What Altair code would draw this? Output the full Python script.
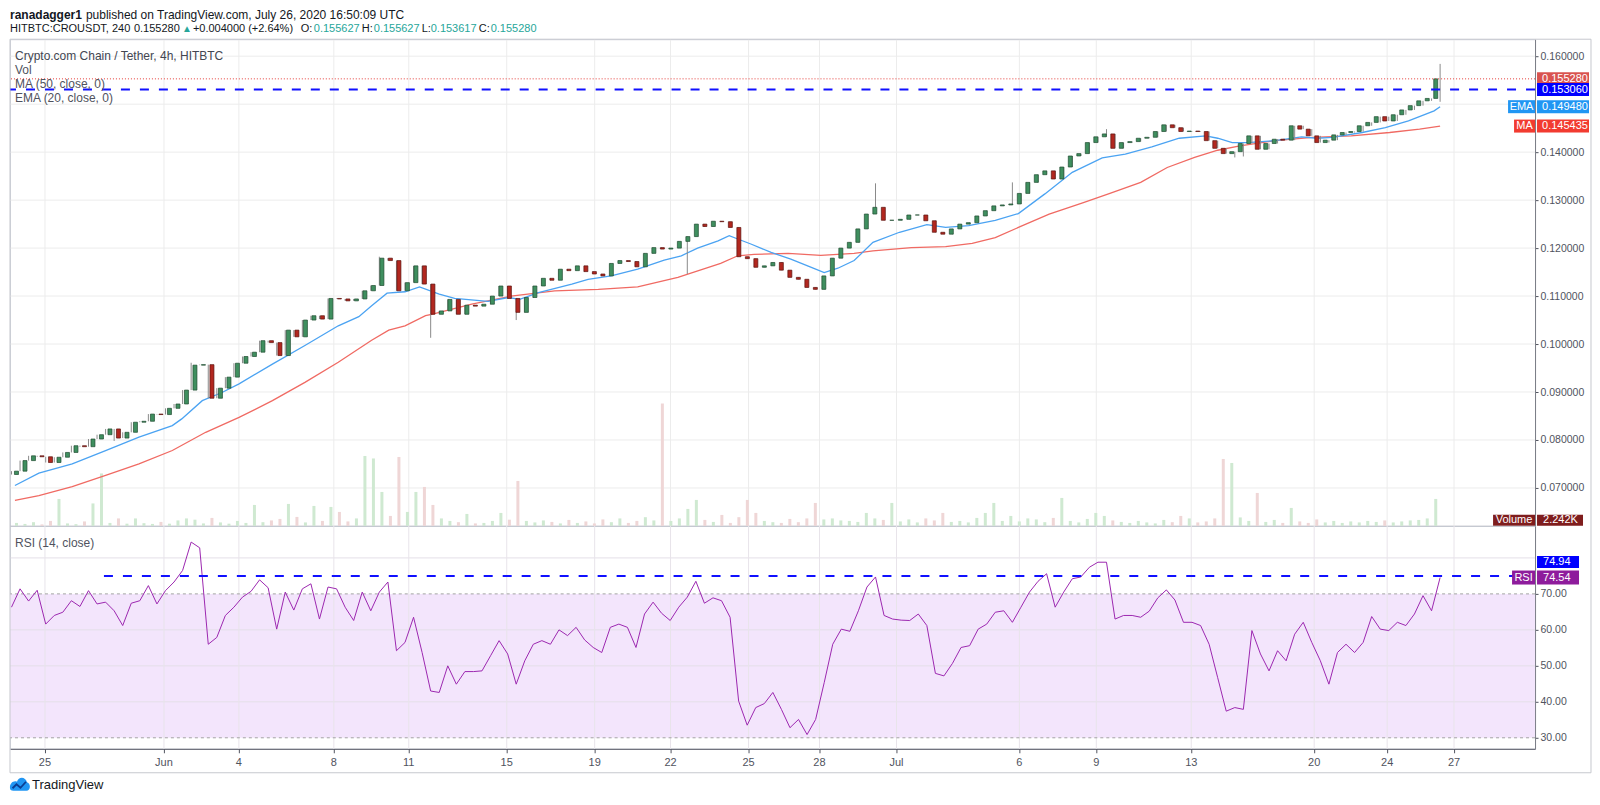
import altair as alt
import pandas as pd

# ---------------- data ----------------
close = [0.0735, 0.0757, 0.0767, 0.0765, 0.0753, 0.0764, 0.0774, 0.0788, 0.0786, 0.0802,
         0.0811, 0.0823, 0.0804, 0.0816, 0.0837, 0.0839, 0.0854, 0.0853, 0.0866, 0.0875,
         0.0904, 0.0956, 0.0957, 0.0887, 0.0908, 0.0931, 0.0960, 0.0974, 0.0983, 0.1007,
         0.1003, 0.0976, 0.1029, 0.1015, 0.1050, 0.1059, 0.1052, 0.1095, 0.1094, 0.1090,
         0.1094, 0.1111, 0.1122, 0.1179, 0.1174, 0.1111, 0.1128, 0.1163, 0.1125, 0.1062,
         0.1069, 0.1093, 0.1062, 0.1081, 0.1079, 0.1083, 0.1100, 0.1121, 0.1095, 0.1066,
         0.1097, 0.1121, 0.1137, 0.1133, 0.1156, 0.1153, 0.1163, 0.1151, 0.1146, 0.1142,
         0.1168, 0.1174, 0.1172, 0.1161, 0.1189, 0.1201, 0.1198, 0.1200, 0.1214, 0.1224,
         0.1250, 0.1245, 0.1256, 0.1255, 0.1243, 0.1182, 0.1178, 0.1160, 0.1163, 0.1170,
         0.1154, 0.1139, 0.1135, 0.1118, 0.1114, 0.1142, 0.1179, 0.1200, 0.1212, 0.1240,
         0.1271, 0.1285, 0.1258, 0.1258, 0.1260, 0.1269, 0.1269, 0.1257, 0.1233, 0.1229,
         0.1240, 0.1250, 0.1253, 0.1267, 0.1278, 0.1288, 0.1290, 0.1292, 0.1314, 0.1337,
         0.1353, 0.1361, 0.1344, 0.1369, 0.1392, 0.1397, 0.1420, 0.1432, 0.1438, 0.1408,
         0.1420, 0.1422, 0.1429, 0.1431, 0.1443, 0.1457, 0.1451, 0.1443, 0.1444, 0.1443,
         0.1424, 0.1408, 0.1397, 0.1401, 0.1418, 0.1434, 0.1406, 0.1418, 0.1427, 0.1425,
         0.1455, 0.1448, 0.1434, 0.1420, 0.1425, 0.1436, 0.1441, 0.1443, 0.1455, 0.1462,
         0.1474, 0.1465, 0.1478, 0.1488, 0.1497, 0.1507, 0.1512, 0.15528]
first_open = 0.0728
wick_high = {21: 0.0961, 43: 0.1182, 101: 0.1335, 117: 0.1337, 128: 0.1448, 167: 0.1584}
wick_low = {12: 0.0798, 49: 0.1013, 59: 0.1050, 79: 0.1146, 143: 0.1389, 144: 0.1391, 167: 0.1505}

rsi = [66.3, 71.4, 68.0, 71.0, 61.6, 64.0, 64.9, 68.1, 66.5, 70.9,
       67.2, 67.7, 65.3, 61.2, 67.4, 68.1, 72.3, 67.2, 70.9, 73.3,
       76.5, 84.4, 82.8, 56.0, 57.9, 64.0, 66.3, 69.1, 70.7, 73.9,
       71.7, 60.2, 70.5, 65.5, 71.4, 72.8, 63.0, 71.9, 71.4, 66.3,
       62.6, 70.5, 65.3, 70.5, 73.3, 54.2, 56.5, 63.5, 53.7, 43.0,
       42.6, 50.0, 44.9, 48.4, 48.4, 48.6, 52.8, 57.0, 53.3, 44.9,
       51.4, 56.0, 57.0, 56.0, 60.0, 58.4, 60.7, 57.2, 55.1, 53.7,
       60.7, 61.6, 60.7, 55.1, 64.4, 67.7, 64.6, 62.6, 66.3, 69.1,
       73.5, 67.4, 68.9, 68.1, 63.5, 40.2, 33.5, 38.4, 39.5, 42.6,
       37.9, 32.8, 35.1, 30.9, 35.1, 45.3, 56.0, 60.2, 59.6, 65.3,
       71.9, 74.7, 64.0, 63.0, 62.7, 62.6, 64.4, 61.2, 47.9, 47.2,
       50.7, 55.1, 55.6, 60.2, 61.6, 64.9, 65.3, 62.1, 66.3, 70.5,
       73.5, 75.6, 66.3, 70.5, 74.2, 74.7, 77.4, 78.8, 78.8, 63.0,
       64.0, 64.0, 63.5, 65.2, 68.9, 71.1, 68.3, 62.1, 62.1, 61.2,
       56.0, 46.7, 37.4, 38.4, 37.9, 59.8, 53.3, 48.6, 54.2, 51.4,
       58.8, 62.1, 56.5, 51.4, 44.9, 53.7, 56.0, 53.7, 56.5, 63.7,
       60.2, 59.8, 62.1, 61.2, 64.4, 69.5, 65.3, 74.54]

volume_k = [1.2, 0.8, 1.5, 0.6, 2.0, 10.8, 1.0, 0.7, 1.8, 9.0,
            21.0, 1.2, 3.0, 0.9, 3.0, 1.1, 0.8, 1.6, 0.9, 2.2,
            3.0, 2.5, 1.0, 3.2, 1.4, 0.9, 2.0, 1.2, 8.4, 1.5,
            2.2, 2.8, 8.8, 3.6, 1.4, 8.0, 2.0, 7.6, 5.6, 1.8,
            3.0, 28.0, 27.0, 13.6, 4.0, 27.6, 5.6, 13.6, 15.6, 8.4,
            3.0, 2.0, 1.5, 4.8, 1.0, 1.2, 2.0, 5.2, 2.5, 18.0,
            2.0, 1.4, 2.2, 1.6, 1.0, 2.4, 1.2, 1.8, 1.0, 2.6,
            1.5, 3.0, 1.2, 2.0, 3.5, 2.2, 49.0, 2.0, 3.0, 6.8,
            10.4, 2.4, 1.6, 4.4, 1.2, 3.5, 10.4, 5.2, 2.0, 1.5,
            1.2, 2.8, 1.5, 3.0, 9.2, 2.6, 3.0, 2.2, 2.0, 1.6,
            5.2, 3.0, 2.4, 9.2, 1.8, 2.6, 1.4, 3.0, 2.2, 5.2,
            1.6, 2.0, 1.4, 3.2, 5.2, 9.2, 2.0, 4.0, 1.8, 3.0,
            2.6, 1.5, 3.2, 11.2, 2.0, 1.4, 2.8, 5.2, 4.0, 2.2,
            1.6, 1.2, 2.0, 1.4, 1.0, 2.4, 1.5, 4.0, 3.0, 1.4,
            1.8, 3.0, 26.8, 25.2, 3.4, 2.0, 13.2, 1.6, 2.4, 1.2,
            7.2, 1.8, 1.2, 2.6, 1.4, 2.0, 1.2, 1.8, 1.4, 2.0,
            1.6, 2.2, 1.4, 1.8, 2.2, 2.4, 3.0, 10.8]

ema_idx = [0.4, 3.2, 7.1, 11.0, 14.9, 18.8, 19.9, 22.3, 24.6, 26.6, 30.5, 34.3, 38.2, 40.6, 42.1,
           43.9, 46.0, 47.7, 50.0, 51.8, 55.7, 58.1, 59.4, 61.6, 65.5, 67.4, 70.1, 73.2, 76.3, 78.3,
           80.2, 82.6, 83.9, 84.9, 86.5, 88.8, 91.1, 93.5, 95.0, 96.6, 98.5, 100.7, 103.8, 107.0, 109.2,
           111.9, 115.0, 117.7, 120.8, 124.0, 127.5, 130.2, 133.3, 136.5, 139.6, 141.0, 142.7, 144.5,
           147.7, 150.8, 152.6, 154.4, 157.9, 160.6, 163.3, 166.3, 167.0]
ema_val = [0.0705, 0.0731, 0.0750, 0.0778, 0.0806, 0.0830, 0.0844, 0.0882, 0.0899, 0.0917, 0.0958, 0.0997,
           0.1038, 0.1057, 0.1080, 0.1106, 0.1109, 0.1119, 0.1104, 0.1095, 0.1089, 0.1097, 0.1093, 0.1107,
           0.1125, 0.1135, 0.1142, 0.1156, 0.1175, 0.1184, 0.1200, 0.1215, 0.1226, 0.1219, 0.1208, 0.1191,
           0.1177, 0.1160, 0.1149, 0.1158, 0.1174, 0.1212, 0.1233, 0.1249, 0.1243, 0.1247, 0.1258, 0.1272,
           0.1313, 0.1358, 0.1388, 0.1396, 0.1411, 0.1429, 0.1434, 0.1429, 0.1420, 0.1420, 0.1424, 0.1432,
           0.1429, 0.1431, 0.1441, 0.1451, 0.1465, 0.1486, 0.14948]

ma_idx = [0.4, 3.2, 7.1, 11.0, 14.9, 18.8, 22.7, 26.6, 30.5, 34.3, 38.2, 42.1, 44.1, 46.0, 48.4, 49.1,
          53.8, 58.4, 63.5, 68.6, 73.2, 77.9, 82.9, 84.9, 86.8, 90.8, 94.6, 98.5, 100.7, 105.2, 109.2,
          112.3, 115.0, 117.7, 121.3, 125.3, 128.4, 132.0, 135.1, 138.3, 141.0, 143.6, 147.7, 152.1,
          156.6, 161.1, 164.6, 167.0]
ma_val = [0.0674, 0.0684, 0.0703, 0.0726, 0.0750, 0.0778, 0.0816, 0.0847, 0.0882, 0.0920, 0.0962, 0.1008,
          0.1029, 0.1038, 0.1059, 0.1062, 0.1083, 0.1100, 0.1111, 0.1114, 0.1119, 0.1139, 0.1168, 0.1184,
          0.1187, 0.1189, 0.1185, 0.1189, 0.1194, 0.1201, 0.1203, 0.1210, 0.1222, 0.1243, 0.1271, 0.1295,
          0.1314, 0.1337, 0.1368, 0.1389, 0.1404, 0.1413, 0.1424, 0.1431, 0.1434, 0.1441, 0.1448, 0.145435]

date_idx = [3.91, 17.82, 26.58, 37.68, 46.44, 57.89, 68.17, 77.04, 86.16, 94.45, 103.45,
            117.82, 126.81, 137.91, 152.28, 160.81, 168.63]
date_lab = ['25', 'Jun', '4', '8', '11', '15', '19', '22', '25', '28', 'Jul',
            '6', '9', '13', '20', '24', '27']

price_grid = [0.07, 0.08, 0.09, 0.10, 0.11, 0.12, 0.13, 0.14, 0.15, 0.16]
price_labels = [0.07, 0.08, 0.09, 0.10, 0.11, 0.12, 0.13, 0.14, 0.16]
rsi_labels = [30, 40, 50, 60, 70]
rsi_grid = [40, 50, 60, 80]

last_price = 0.15528
level_price = 0.15306
ema_last = 0.14948
ma_last = 0.145435
vol_last = 2.242
rsi_last = 74.54
rsi_level = 74.94

# ---------------- layout constants ----------------
FONT = "Liberation Sans"
W, H_MAIN, H_RSI = 1526, 487, 223
BAR_PX = 8.56
X0 = -0.175
X1 = X0 + W / BAR_PX
P_PX = 4800.0
P_TOP = 0.16 + 17 / P_PX
P_BOT = P_TOP - H_MAIN / P_PX
V_PX = 2.5
R_PX = 3.6
R_TOP = 70 + 68 / R_PX
R_BOT = R_TOP - H_RSI / R_PX

XS = alt.Scale(domain=[X0, X1], nice=False, zero=False)
PS = alt.Scale(domain=[P_BOT, P_TOP], nice=False, zero=False)
VS = alt.Scale(domain=[0, H_MAIN / V_PX], nice=False, zero=False)
RS = alt.Scale(domain=[R_BOT, R_TOP], nice=False, zero=False)

# ---------------- tables ----------------
opens = [first_open] + close[:-1]
rows = []
for i, c in enumerate(close):
    o = opens[i]
    rows.append(dict(i=i, o=o, c=c,
                     hi=max(o, c, wick_high.get(i, 0.0)),
                     lo=min(o, c, wick_low.get(i, 1.0)),
                     vol=volume_k[i], up=bool(c >= o), rsi=rsi[i]))
df = pd.DataFrame(rows)
date_df = pd.DataFrame({'t': date_idx, 'lab': date_lab})


def label(x, y, text, color='#50535e', size=12, weight='normal', align='left'):
    return alt.Chart(pd.DataFrame({'t': [text]})).mark_text(
        align=align, baseline='middle', font=FONT, fontSize=size, fontWeight=weight, color=color
    ).encode(x=alt.value(x), y=alt.value(y), text='t:N')


def box(scale, val, half, x1, x2, fill, text, tx, align='left', shift=0.0):
    d = pd.DataFrame({'lo': [val + shift - half], 'hi': [val + shift + half],
                      'm': [val + shift], 't': [text]})
    r = alt.Chart(d).mark_rect(color=fill).encode(
        x=alt.value(x1), x2=alt.value(x2),
        y=alt.Y('lo:Q', scale=scale, axis=None), y2='hi:Q')
    t = alt.Chart(d).mark_text(align=align, baseline='middle', font=FONT, fontSize=11,
                               color='white').encode(
        x=alt.value(tx), y=alt.Y('m:Q', scale=scale, axis=None), text='t:N')
    return [r, t]


def axis_carrier(yscale, yval, xaxis, yaxis):
    d = pd.DataFrame({'t': [date_idx[0]], 'v': [yval]})
    return alt.Chart(d).mark_point(opacity=0).encode(
        x=alt.X('t:Q', scale=XS, axis=xaxis),
        y=alt.Y('v:Q', scale=yscale, axis=yaxis))


# ---------------- main (price) panel ----------------
p_axis = alt.Axis(orient='right', values=price_labels, format='.6f', labelFont=FONT,
                  labelFontSize=10.5, labelColor='#50535e', tickSize=3, tickColor='#50535e',
                  labelPadding=2, domain=True, domainColor='#787b86', grid=False, title=None)
x_axis_main = alt.Axis(orient='bottom', values=date_idx, labels=False, ticks=False, grid=False,
                       domain=True, domainColor='#50535e', title=None)
XN = alt.X('i:Q', scale=XS, axis=None)

main_layers = [
    axis_carrier(PS, 0.1, x_axis_main, p_axis),
    alt.Chart(pd.DataFrame({'p': price_grid})).mark_rule(color='#ececec').encode(
        y=alt.Y('p:Q', scale=PS, axis=None)),
    alt.Chart(date_df).mark_rule(color='#ececec').encode(
        x=alt.X('t:Q', scale=XS, axis=None)),
    alt.Chart(df).mark_bar(width=3).encode(
        x=XN, y=alt.Y('vol:Q', scale=VS, axis=None),
        color=alt.condition('datum.up', alt.value('#cfe9d1'), alt.value('#efd6d6'))),
    alt.Chart(pd.DataFrame({'t': ma_idx, 'v': ma_val})).mark_line(color='#f06a63', strokeWidth=1.3).encode(
        x=alt.X('t:Q', scale=XS, axis=None), y=alt.Y('v:Q', scale=PS, axis=None)),
    alt.Chart(pd.DataFrame({'t': ema_idx, 'v': ema_val})).mark_line(color='#4ba3f2', strokeWidth=1.3).encode(
        x=alt.X('t:Q', scale=XS, axis=None), y=alt.Y('v:Q', scale=PS, axis=None)),
    alt.Chart(df).mark_rule(color='#8a8a8a', strokeWidth=1).encode(
        x=XN, y=alt.Y('lo:Q', scale=PS, axis=None), y2='hi:Q'),
    alt.Chart(df).mark_bar(width=4, strokeWidth=0.7).encode(
        x=XN, y=alt.Y('o:Q', scale=PS, axis=None), y2='c:Q',
        fill=alt.condition('datum.up', alt.value('#3f8f5f'), alt.value('#b2271f')),
        stroke=alt.condition('datum.up', alt.value('#1f4c31'), alt.value('#5a130f'))),
    alt.Chart(pd.DataFrame({'v': [last_price]})).mark_rule(
        color='#e53935', strokeDash=[1, 2], strokeWidth=1).encode(
        y=alt.Y('v:Q', scale=PS, axis=None)),
    alt.Chart(pd.DataFrame({'v': [level_price]})).mark_rule(
        color='#1010ff', strokeDash=[9, 10], strokeWidth=2).encode(
        y=alt.Y('v:Q', scale=PS, axis=None)),
    # header
    label(0, -24, 'ranadagger1', '#131722', 12, 'bold'),
    label(76, -24, 'published on TradingView.com, July 26, 2020 16:50:09 UTC', '#131722', 12),
    label(0, -10, 'HITBTC:CROUSDT, 240', '#131722', 11),
    label(124, -10, '0.155280', '#131722', 11),
    label(172, -10, '▲', '#26a69a', 10),
    label(183, -10, '+0.004000 (+2.64%)', '#131722', 11),
    label(291, -10, 'O:', '#131722', 11),
    label(304, -10, '0.155627', '#26a69a', 11),
    label(352, -10, 'H:', '#131722', 11),
    label(364, -10, '0.155627', '#26a69a', 11),
    label(412, -10, 'L:', '#131722', 11),
    label(421, -10, '0.153617', '#26a69a', 11),
    label(469, -10, 'C:', '#131722', 11),
    label(481, -10, '0.155280', '#26a69a', 11),
    # legend texts
    label(5, 17, 'Crypto.com Chain / Tether, 4h, HITBTC', '#434651', 12),
    label(5, 31, 'Vol', '#50535e', 12),
    label(5, 45, 'MA (50, close, 0)', '#50535e', 12),
    label(5, 59, 'EMA (20, close, 0)', '#50535e', 12),
]
ph = 6.5 / P_PX
main_layers += box(PS, last_price, ph, 1528, 1580, '#d9534f', '0.155280', 1533)
main_layers += box(PS, level_price, ph, 1528, 1580, '#0000ff', '0.153060', 1533)
main_layers += box(PS, ema_last, ph, 1499, 1526, '#2196f3', 'EMA', 1512.5, 'center')
main_layers += box(PS, ema_last, ph, 1528, 1580, '#2196f3', '0.149480', 1533)
main_layers += box(PS, ma_last, ph, 1505, 1526, '#f23b30', 'MA', 1515.5, 'center')
main_layers += box(PS, ma_last, ph, 1528, 1580, '#f23b30', '0.145435', 1533)
vh = 5.5 / V_PX
main_layers += box(VS, vol_last, vh, 1484, 1526, '#7f1d1d', 'Volume', 1505, 'center')
main_layers += box(VS, vol_last, vh, 1528, 1574, '#7f1d1d', '2.242K', 1534)

main = alt.layer(*main_layers).resolve_scale(
    x='independent', y='independent').properties(width=W, height=H_MAIN)

# ---------------- RSI panel ----------------
r_axis = alt.Axis(orient='right', values=rsi_labels, format='.2f', labelFont=FONT,
                  labelFontSize=10.5, labelColor='#50535e', tickSize=3, tickColor='#50535e',
                  labelPadding=2, domain=True, domainColor='#787b86', grid=False, title=None)
x_axis_rsi = alt.Axis(orient='bottom', values=date_idx, labels=False, ticks=True, tickSize=4,
                      tickColor='#50535e', grid=False, domain=True, domainColor='#50535e', title=None)

CLOUD = ("M-1,0.35 C-1.05,-0.15 -0.65,-0.45 -0.3,-0.3 C-0.15,-0.85 0.55,-0.85 0.7,-0.25 "
         "C1.1,-0.15 1.1,0.6 0.65,0.6 L-0.65,0.6 C-0.9,0.6 -1,0.5 -1,0.35 Z")
ZIG = "M-0.75,0.35 L-0.35,-0.05 L0.05,0.3 L0.6,-0.3"
logo_df = pd.DataFrame({'a': [0]})
LOGO_Y = 259

rsi_layers = [
    axis_carrier(RS, 50, x_axis_rsi, r_axis),
    alt.Chart(pd.DataFrame({'a': [30], 'b': [70]})).mark_rect(color='#f3e5fc').encode(
        x=alt.value(0), x2=alt.value(W),
        y=alt.Y('a:Q', scale=RS, axis=None), y2='b:Q'),
    alt.Chart(pd.DataFrame({'r': rsi_grid})).mark_rule(color='#e4dfe8').encode(
        y=alt.Y('r:Q', scale=RS, axis=None)),
    alt.Chart(date_df).mark_rule(color='#e8e4ea').encode(
        x=alt.X('t:Q', scale=XS, axis=None)),
    alt.Chart(pd.DataFrame({'r': [30, 70]})).mark_rule(
        color='#a3a3a3', strokeDash=[3, 3]).encode(y=alt.Y('r:Q', scale=RS, axis=None)),
    alt.Chart(df).mark_line(color='#9c27b0', strokeWidth=1).encode(
        x=XN, y=alt.Y('rsi:Q', scale=RS, axis=None)),
    alt.Chart(pd.DataFrame({'v': [rsi_level]})).mark_rule(
        color='#1010ff', strokeDash=[9, 10], strokeWidth=2).encode(
        x=alt.value(94), x2=alt.value(W), y=alt.Y('v:Q', scale=RS, axis=None)),
    alt.Chart(date_df).mark_text(font=FONT, fontSize=11, color='#50535e', baseline='middle').encode(
        x=alt.X('t:Q', scale=XS, axis=None), y=alt.value(H_RSI + 14), text='lab:N'),
    label(5, 17, 'RSI (14, close)', '#50535e', 12),
    alt.Chart(logo_df).mark_rect(fillOpacity=0, stroke='#c6c8ce', strokeWidth=1).encode(
        x=alt.value(0), x2=alt.value(1582), y=alt.value(-H_MAIN), y2=alt.value(H_RSI + 24)),
    alt.Chart(logo_df).mark_point(shape=CLOUD, size=400, filled=True, color='#2196f3', opacity=1).encode(
        x=alt.value(10), y=alt.value(LOGO_Y)),
    alt.Chart(logo_df).mark_point(shape=ZIG, size=400, filled=False, color='#0b3d91',
                                  strokeWidth=1.8, opacity=1).encode(
        x=alt.value(10), y=alt.value(LOGO_Y)),
    label(22, LOGO_Y, 'TradingView', '#131722', 13),
]
rh = 6.0 / R_PX
rsi_layers += box(RS, rsi_level, rh, 1528, 1570, '#0000ff', '74.94', 1534, shift=14 / R_PX)
rsi_layers += box(RS, rsi_last, 7.0 / R_PX, 1503, 1526, '#8e1c9c', 'RSI', 1514.5, 'center')
rsi_layers += box(RS, rsi_last, 7.0 / R_PX, 1528, 1570, '#8e1c9c', '74.54', 1534)

rsi_panel = alt.layer(*rsi_layers).resolve_scale(
    x='independent', y='independent').properties(width=W, height=H_RSI)

chart = alt.vconcat(main, rsi_panel, spacing=0, bounds='flush').properties(
    padding=0, background='white'
).configure_view(stroke='#d1d4dc', strokeWidth=1)

chart.save("out.html", embed_options={"renderer": "svg", "actions": False})
